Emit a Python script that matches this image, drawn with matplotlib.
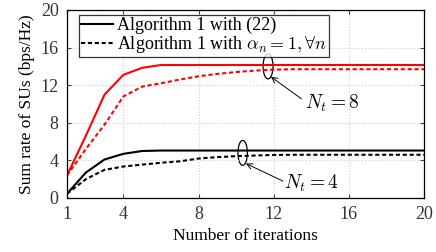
import matplotlib
matplotlib.use("Agg")
import matplotlib.pyplot as plt
from matplotlib.patches import Ellipse

plt.rcParams['font.family'] = ['Liberation Serif', 'DejaVu Serif']
plt.rcParams['mathtext.fontset'] = 'cm'

iterations = list(range(1, 21))
nt8_alg = [2.4, 6.6, 11.0, 13.1, 13.85, 14.15, 14.15, 14.15, 14.15, 14.15,
           14.15, 14.15, 14.15, 14.15, 14.15, 14.15, 14.15, 14.15, 14.15, 14.15]
nt8_alpha = [2.4, 5.2, 7.8, 10.8, 11.85, 12.2, 12.6, 12.95, 13.2, 13.4,
             13.55, 13.65, 13.7, 13.7, 13.7, 13.7, 13.7, 13.7, 13.7, 13.7]
nt4_alg = [0.45, 2.7, 4.1, 4.7, 5.0, 5.05, 5.05, 5.05, 5.05, 5.05,
           5.05, 5.05, 5.05, 5.05, 5.05, 5.05, 5.05, 5.05, 5.05, 5.05]
nt4_alpha = [0.45, 2.0, 3.0, 3.35, 3.55, 3.75, 3.9, 4.2, 4.35, 4.45,
             4.52, 4.58, 4.6, 4.6, 4.6, 4.6, 4.6, 4.6, 4.6, 4.6]
xticks = [1, 4, 8, 12, 16, 20]
yticks = [0, 4, 8, 12, 16, 20]
legend_labels = ['Algorithm 1 with (22)', r'Algorithm 1 with $\alpha_n=1,\forall n$']

fig = plt.figure(figsize=(4.36, 2.52), dpi=100)
ax = fig.add_axes([67/436, 1-198/252, (424-67)/436, (198-10)/252])

dash = (0, (2.0, 1.3))
ax.plot(iterations, nt8_alg, color='red', lw=1.5)
ax.plot(iterations, nt8_alpha, color='red', lw=1.5, linestyle=dash)
l1, = ax.plot(iterations, nt4_alg, color='black', lw=1.5, label=legend_labels[0])
l2, = ax.plot(iterations, nt4_alpha, color='black', lw=1.5, linestyle=dash, label=legend_labels[1])

ax.set_xlim(1, 20)
ax.set_ylim(0, 20)
ax.set_xticks(xticks)
ax.set_yticks(yticks)
ax.grid(True, linestyle=':', color='#cccccc', lw=0.8)
ax.tick_params(direction='in', top=True, right=True, labelsize=13, length=3,
               colors='#444444', labelcolor='#333333')
ax.tick_params(axis='x', pad=6)
ax.tick_params(axis='y', pad=6)
for s in ax.spines.values():
    s.set_linewidth(0.9)
ax.set_xlabel('Number of iterations', fontsize=12.5, labelpad=3)
ax.set_ylabel('Sum rate of SUs (bps/Hz)', fontsize=12.5, labelpad=4)

leg = ax.legend(handles=[l1, l2], loc='upper left', bbox_to_anchor=(0.034, 0.973),
                fontsize=13, frameon=True, fancybox=False, edgecolor='black',
                borderpad=0.1, labelspacing=0.0, handlelength=1.75, handletextpad=0.25,
                borderaxespad=0)
leg.get_frame().set_linewidth(0.9)

ax.add_patch(Ellipse((11.7, 14.0), 0.53, 2.65, fill=False, edgecolor='black', lw=0.9))
ax.add_patch(Ellipse((10.35, 4.8), 0.5, 2.65, fill=False, edgecolor='black', lw=0.9))
ax.text(13.65, 10.05, r'$N_t=8$', fontsize=14, va='center', ha='left')
ax.text(12.55, 1.6, r'$N_t=4$', fontsize=14, va='center', ha='left')
arrow = dict(arrowstyle='->', color='black', lw=0.7, shrinkA=0, shrinkB=0)
ax.annotate('', xy=(11.85, 12.9), xytext=(13.48, 10.55), arrowprops=arrow)
ax.annotate('', xy=(10.52, 3.67), xytext=(12.49, 1.8), arrowprops=arrow)

fig.savefig('out.png', dpi=100)
